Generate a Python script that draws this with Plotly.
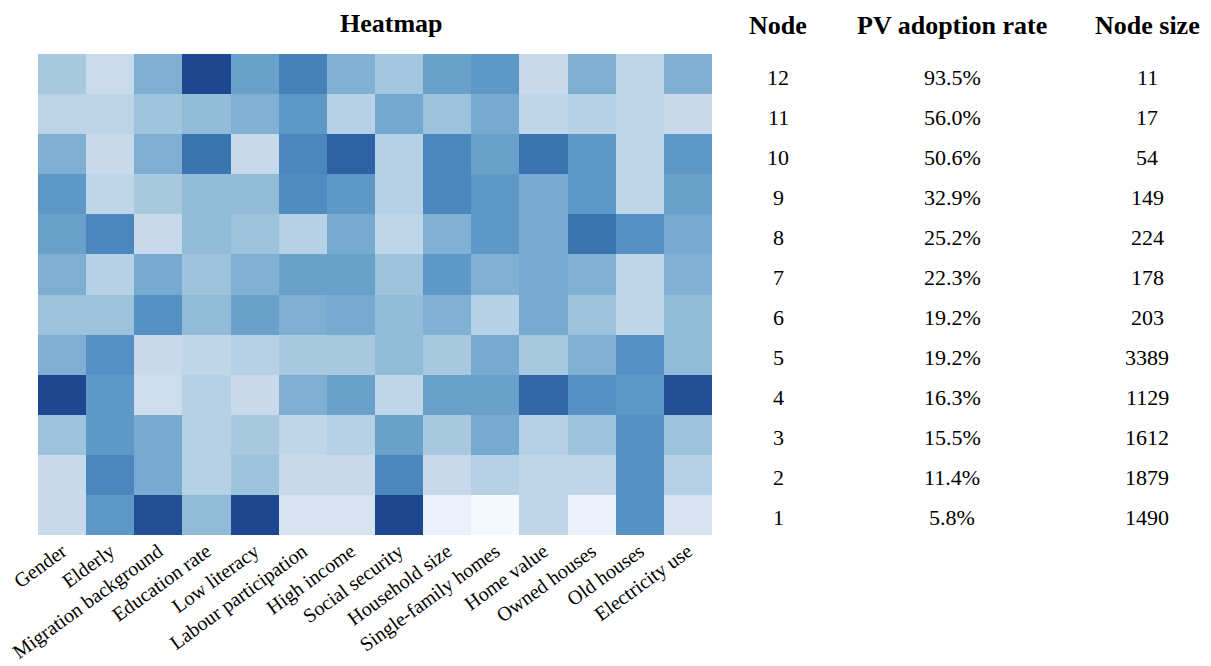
import plotly.graph_objects as go

# Socio-economic features (heatmap columns)
features = [
    "Gender", "Elderly", "Migration background", "Education rate", "Low literacy",
    "Labour participation", "High income", "Social security", "Household size",
    "Single-family homes", "Home value", "Owned houses", "Old houses", "Electricity use",
]

# Terminal nodes (heatmap rows, node 1 at the bottom)
nodes = [1, 2, 3, 4, 5, 6, 7, 8, 9, 10, 11, 12]

# Relative feature intensity per node, one row per node (node 1 .. node 12)
intensity = [
    [0.28, 0.68, 0.95, 0.50, 0.98, 0.20, 0.20, 0.98, 0.10, 0.02, 0.32, 0.10, 0.71, 0.20],
    [0.28, 0.75, 0.60, 0.36, 0.46, 0.28, 0.28, 0.75, 0.28, 0.36, 0.32, 0.32, 0.71, 0.36],
    [0.46, 0.68, 0.60, 0.36, 0.42, 0.32, 0.36, 0.64, 0.42, 0.60, 0.36, 0.46, 0.71, 0.46],
    [0.98, 0.68, 0.25, 0.36, 0.28, 0.57, 0.64, 0.32, 0.64, 0.64, 0.86, 0.71, 0.68, 0.95],
    [0.57, 0.71, 0.28, 0.32, 0.36, 0.42, 0.42, 0.50, 0.42, 0.60, 0.42, 0.56, 0.71, 0.50],
    [0.46, 0.46, 0.71, 0.50, 0.64, 0.57, 0.60, 0.50, 0.56, 0.36, 0.60, 0.46, 0.32, 0.50],
    [0.57, 0.36, 0.60, 0.46, 0.56, 0.64, 0.64, 0.46, 0.68, 0.56, 0.60, 0.56, 0.32, 0.56],
    [0.64, 0.75, 0.28, 0.50, 0.46, 0.36, 0.60, 0.32, 0.56, 0.68, 0.60, 0.82, 0.71, 0.60],
    [0.68, 0.32, 0.42, 0.50, 0.50, 0.73, 0.68, 0.36, 0.75, 0.68, 0.60, 0.68, 0.32, 0.64],
    [0.57, 0.28, 0.57, 0.82, 0.28, 0.75, 0.88, 0.36, 0.75, 0.64, 0.82, 0.68, 0.32, 0.68],
    [0.33, 0.33, 0.45, 0.50, 0.56, 0.68, 0.36, 0.61, 0.46, 0.60, 0.32, 0.36, 0.32, 0.28],
    [0.42, 0.27, 0.57, 0.98, 0.64, 0.77, 0.56, 0.43, 0.64, 0.68, 0.28, 0.57, 0.32, 0.57],
]

# PV adoption rate (%) and node size, node 1 .. node 12
pv_rate = [5.8, 11.4, 15.5, 16.3, 19.2, 19.2, 22.3, 25.2, 32.9, 50.6, 56.0, 93.5]
node_size = [1490, 1879, 1612, 1129, 3389, 203, 178, 224, 149, 54, 17, 11]

SERIF = "Liberation Serif, Times New Roman, serif"

blues = [
    [0.0, "#f7fbff"],
    [0.1, "#e9f0f9"],
    [0.2, "#d6e3f1"],
    [0.3, "#c3d7e9"],
    [0.4, "#aecbe2"],
    [0.5, "#90bcd8"],
    [0.6, "#76aad1"],
    [0.7, "#5893c3"],
    [0.8, "#3e7ab5"],
    [0.9, "#2a5ca0"],
    [1.0, "#1a428c"],
]

fig = go.Figure(
    go.Heatmap(
        z=intensity,
        x=features,
        y=nodes,
        colorscale=blues,
        zmin=0,
        zmax=1,
        showscale=False,
        hoverongaps=False,
    )
)

W, H = 1211, 666
L, R, T, B = 38, 499, 54, 131
pw, ph = W - L - R, H - T - B


def px_x(x):
    return (x - L) / pw


def px_y(y):
    return 1 + (T - y) / ph


annotations = [
    dict(text="<b>Heatmap</b>", x=px_x(391), y=px_y(24), xref="paper", yref="paper",
         showarrow=False, xanchor="center", yanchor="middle",
         font=dict(family=SERIF, size=26, color="black")),
]

col_x = {"Node": 778, "PV adoption rate": 952, "Node size": 1147}
for head, cx in col_x.items():
    annotations.append(dict(
        text=f"<b>{head}</b>", x=px_x(cx), y=px_y(25), xref="paper", yref="paper",
        showarrow=False, xanchor="center", yanchor="middle",
        font=dict(family=SERIF, size=26, color="black")))

for n, rate, size in zip(nodes, pv_rate, node_size):
    for txt, cx in ((str(n), col_x["Node"]),
                    (f"{rate:.1f}%", col_x["PV adoption rate"]),
                    (str(size), col_x["Node size"])):
        annotations.append(dict(
            text=txt, x=px_x(cx), y=n, xref="paper", yref="y",
            showarrow=False, xanchor="center", yanchor="middle", yshift=-3,
            font=dict(family=SERIF, size=22, color="black")))

fig.update_layout(
    width=W,
    height=H,
    margin=dict(l=L, r=R, t=T, b=B, autoexpand=False),
    paper_bgcolor="white",
    plot_bgcolor="white",
    font=dict(family=SERIF, size=20, color="black"),
    annotations=annotations,
    xaxis=dict(
        tickangle=-36,
        tickfont=dict(family=SERIF, size=20, color="black"),
        showgrid=False,
        zeroline=False,
        showline=False,
        ticks="",
        automargin=False,
    ),
    yaxis=dict(
        range=[0.5, 12.5],
        showticklabels=False,
        showgrid=False,
        zeroline=False,
        showline=False,
        ticks="",
        automargin=False,
    ),
)

fig.write_html("out.html")
